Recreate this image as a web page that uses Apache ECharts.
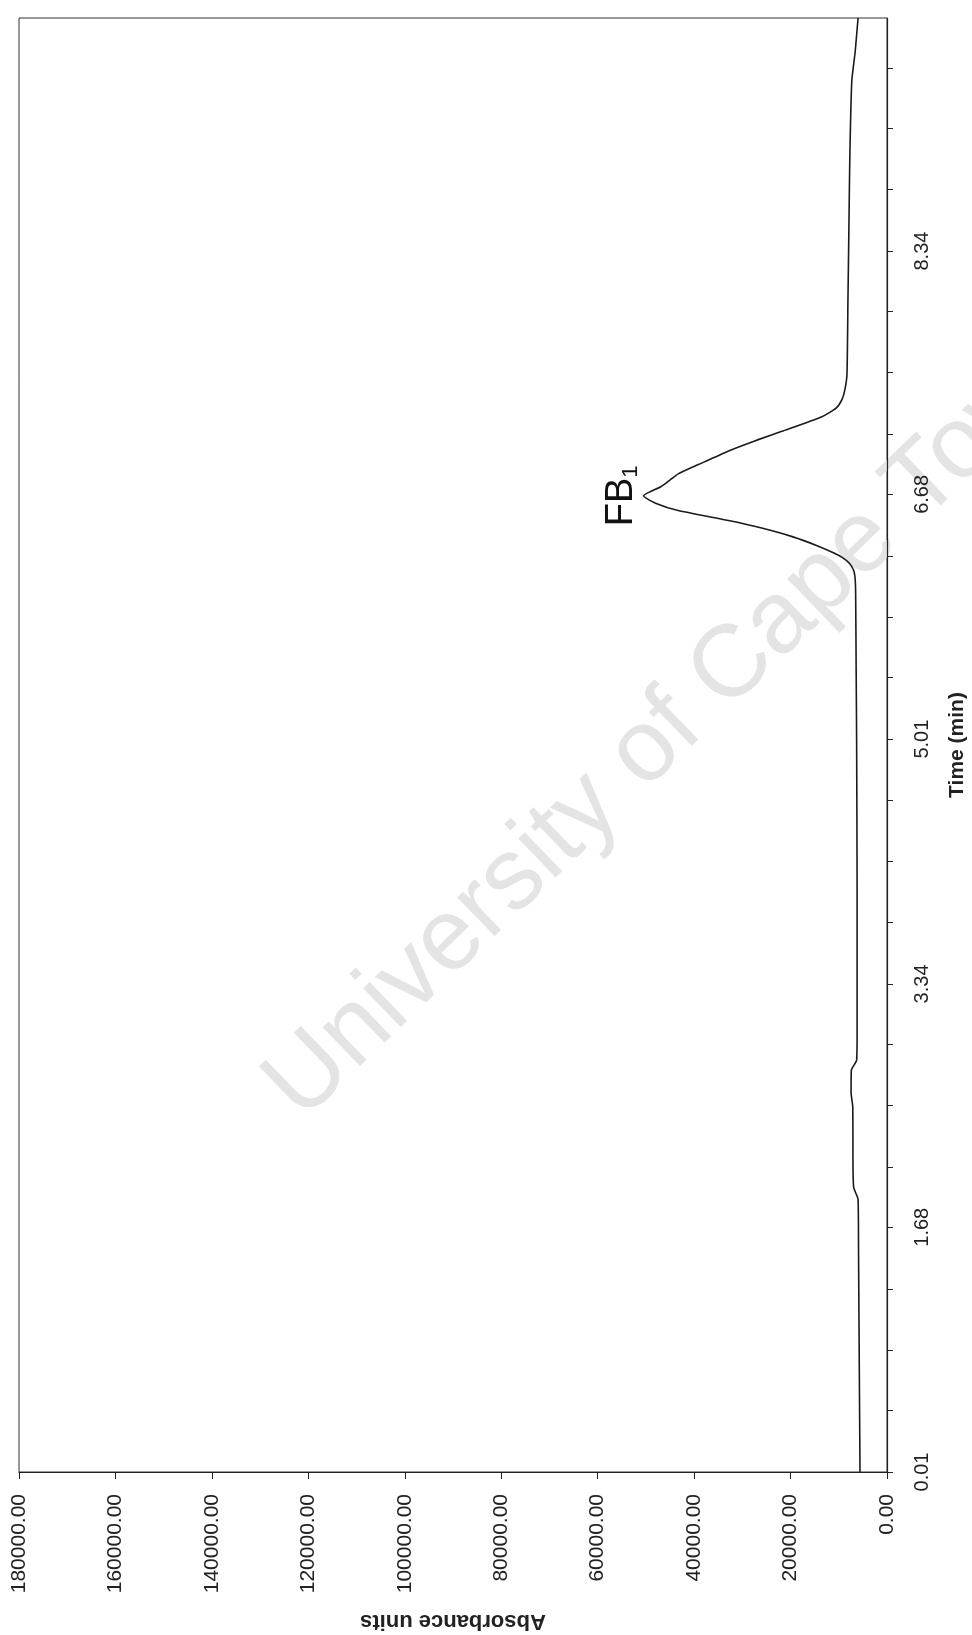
<!DOCTYPE html>
<html>
<head>
<meta charset="utf-8">
<script src="https://cdn.jsdelivr.net/npm/echarts@6/dist/echarts.min.js"></script>
<style>
html,body{margin:0;padding:0;background:#fff;}
#chart{width:972px;height:1635px;}
</style>
</head>
<body>
<div id="chart"></div>
<script>
// Chromatogram data (time in min, absorbance units)
const timeMin = [0.01, 0.5, 1.0, 1.5, 1.87, 1.95, 2.1, 2.5, 2.6, 2.75, 2.82, 3.0, 4.0, 5.0, 5.5, 6.0, 6.10, 6.16, 6.21, 6.25, 6.28, 6.33, 6.39, 6.45, 6.50, 6.57, 6.62, 6.67, 6.70, 6.73, 6.77, 6.82, 6.90, 6.98, 7.05, 7.11, 7.21, 7.27, 7.33, 7.40, 7.50, 8.0, 8.5, 9.0, 9.5, 9.7, 9.93];
const absorbance = [5600, 5700, 5800, 5900, 6000, 6900, 7050, 7100, 7450, 7400, 6300, 6200, 6200, 6300, 6400, 6500, 6600, 6900, 7800, 9300, 11000, 14500, 19500, 26000, 32600, 43300, 48000, 50500, 49000, 47000, 45300, 43300, 38000, 32600, 27000, 21800, 13500, 10500, 9300, 8700, 8300, 8100, 7900, 7700, 7300, 6600, 6000];
const absTicks = [0, 20000, 40000, 60000, 80000, 100000, 120000, 140000, 160000, 180000];
const timeLabels = [0.01, 1.68, 3.34, 5.01, 6.68, 8.34];
const timeTicks = [0.01, 0.43, 0.84, 1.26, 1.68, 2.09, 2.51, 2.93, 3.34, 3.76, 4.18, 4.59, 5.01, 5.43, 5.84, 6.26, 6.68, 7.09, 7.51, 7.93, 8.34, 8.76, 9.18, 9.59];
const peakName = 'FB';
const peakSub = '1';
const peakIndex = 27;

const font = '"Liberation Sans", Arial, sans-serif';
const chart = echarts.init(document.getElementById('chart'));
const data = timeMin.map((t, i) => [absorbance[i], t]);

chart.setOption({
  animation: false,
  backgroundColor: '#fff',
  graphic: [{
    type: 'text', x: 678, y: 720, rotation: 44 * Math.PI / 180, z: 0, silent: true,
    style: { text: 'University of Cape Town', fontSize: 102, fontFamily: font, fill: '#e4e4e4', align: 'center', verticalAlign: 'middle' }
  }],
  grid: { left: 19, right: 85, top: 18, bottom: 163, outerBoundsMode: 'none', containLabel: false, show: true, borderColor: '#333', borderWidth: 1, backgroundColor: 'transparent' },
  xAxis: {
    type: 'value', min: 0, max: 180000, interval: 20000, inverse: true, position: 'bottom',
    name: 'Absorbance units', nameLocation: 'middle', nameGap: 138, nameRotate: 180,
    nameTextStyle: { fontFamily: font, fontSize: 22, fontWeight: 'bold', color: '#222' },
    axisLine: { show: true, lineStyle: { color: '#222', width: 1.2 } },
    axisTick: { show: true, length: 7, lineStyle: { color: '#222' }, customValues: absTicks },
    axisLabel: { rotate: 90, margin: 22, fontFamily: font, fontSize: 21, color: '#222', customValues: absTicks, formatter: v => v.toFixed(2) },
    splitLine: { show: false }
  },
  yAxis: {
    type: 'value', min: 0.01, max: 9.93, position: 'right',
    name: 'Time (min)', nameLocation: 'middle', nameGap: 60, nameRotate: 90,
    nameTextStyle: { fontFamily: font, fontSize: 21, fontWeight: 'bold', color: '#222' },
    axisLine: { show: true, lineStyle: { color: '#222', width: 1.2 } },
    axisTick: { show: true, length: 6, lineStyle: { color: '#222' }, customValues: timeTicks },
    axisLabel: { rotate: 90, margin: 25, fontFamily: font, fontSize: 20, color: '#222', customValues: timeLabels, formatter: v => v.toFixed(2) },
    splitLine: { show: false }
  },
  series: [{
    type: 'line', data: data, smooth: 0.2, showSymbol: false, z: 5,
    lineStyle: { color: '#1a1a1a', width: 1.6 },
    markPoint: {
      symbol: 'circle', symbolSize: 1, itemStyle: { color: 'transparent' },
      data: [{ coord: data[peakIndex] }],
      label: {
        show: true, position: 'left', distance: 1, rotate: 90, align: 'center', verticalAlign: 'bottom',
        formatter: '{a|' + peakName + '}{b|' + peakSub + '}',
        rich: {
          a: { fontFamily: font, fontSize: 38, color: '#111' },
          b: { fontFamily: font, fontSize: 22, color: '#111', padding: [18, 0, 0, 0] }
        }
      }
    }
  }]
});
</script>
</body>
</html>
